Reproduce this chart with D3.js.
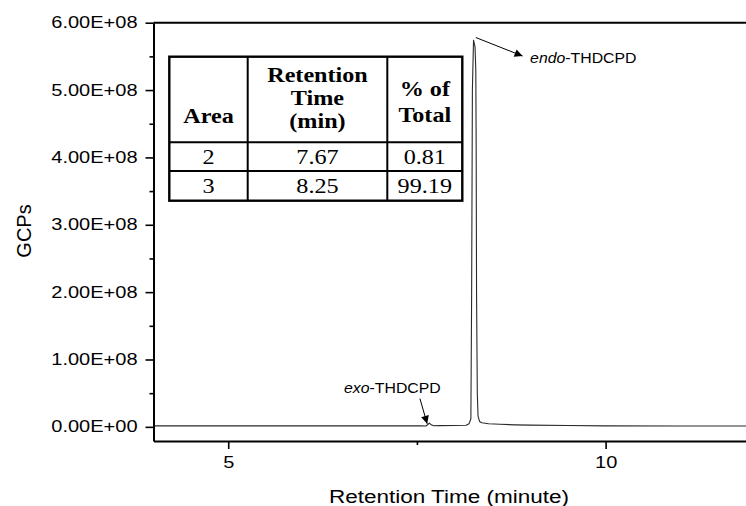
<!DOCTYPE html>
<html>
<head>
<meta charset="utf-8">
<script src="https://cdn.jsdelivr.net/npm/d3@7"></script>
<style>
  body { margin: 0; background: #fff; }
  svg { display: block; }
</style>
</head>
<body>
<div id="chart"></div>
<script>
"use strict";

const width = 746,
      height = 506;

// chromatogram trace (minute, counts)
const retentionTime = [4.01, 5.0, 6.0, 7.0, 7.55, 7.62, 7.645, 7.665, 7.69, 7.72, 7.8, 8.0, 8.15, 8.19, 8.215, 8.225, 8.235, 8.25, 8.27, 8.28, 8.285, 8.29, 8.30, 8.31, 8.33, 8.36, 8.45, 8.6, 8.8, 9.0, 9.5, 10.0, 11.0, 11.86];
const gcps          = [1.4e6, 1.4e6, 1.4e6, 1.4e6, 1.4e6, 1.3e6, 3.5e6, 5.6e6, 3.0e6, 1.6e6, 1.8e6, 2.0e6, 2.4e6, 4.5e6, 1.2e7, 2.0e8, 5.0e8, 5.74e8, 5.64e8, 5.3e8, 4.2e8, 2.0e8, 5.0e7, 1.6e7, 8.0e6, 6.0e6, 4.6e6, 3.8e6, 3.0e6, 2.6e6, 2.0e6, 1.5e6, 1.3e6, 1.3e6];

const yMajor = [0, 1e8, 2e8, 3e8, 4e8, 5e8, 6e8];
const yMinor = [0.5e8, 1.5e8, 2.5e8, 3.5e8, 4.5e8, 5.5e8];
const xMajor = [5, 10];
const xMinor = [7.5];

// inset table
const tableHeader = [["Area"], ["Retention", "Time", "(min)"], ["% of", "Total"]];
const tableRows = [["2", "7.67", "0.81"], ["3", "8.25", "99.19"]];

// peak labels in data units: arrow start, arrow tip, label position
const peakLabels = [
    { from: [7.54, 4.2e7], to: [7.636, 4.5e6], at: [7.175, 5.7e7], anchor: "middle", it: "exo", rest: "-THDCPD" },
    { from: [8.28, 5.78e8], to: [8.90, 5.505e8], at: [9.0, 5.47e8], anchor: "start", it: "endo", rest: "-THDCPD" }
];

const sans = "'Liberation Sans', Arial, sans-serif";
const serif = "'Liberation Serif', 'Times New Roman', serif";

const svg = d3.select("#chart")
    .append("svg")
    .attr("width", width)
    .attr("height", height);

const x = d3.scaleLinear().domain([4.01, 11.86]).range([153.5, 746]);
const y = d3.scaleLinear().domain([-2.1e7, 6e8]).range([441, 22.7]);

// the picture is a bit wider than tall, so text is stretched sideways
function stretch(sel, k) {
    sel.each(function () {
        let w = this.getComputedTextLength();
        d3.select(this).attr("textLength", w * k).attr("lengthAdjust", "spacingAndGlyphs");
    });
}

function sci(v) {
    let parts = v.toExponential(2).split("e");
    let ex = parseInt(parts[1]);
    let sign = ex < 0 ? "-" : "+";
    let digits = String(Math.abs(ex)).padStart(2, "0");
    return parts[0] + "E" + sign + digits;
}

svg.append("defs").append("marker")
    .attr("id", "arrow")
    .attr("viewBox", "0 0 10 10")
    .attr("refX", 10)
    .attr("refY", 5)
    .attr("markerWidth", 11)
    .attr("markerHeight", 8)
    .attr("markerUnits", "userSpaceOnUse")
    .attr("orient", "auto")
    .append("path")
    .attr("d", "M0,0 L10,5 L0,10 Z")
    .attr("fill", "#000");

// trace
let line = d3.line()
    .x((d, i) => x(retentionTime[i]))
    .y(d => y(d));

svg.append("path")
    .datum(gcps)
    .attr("fill", "none")
    .attr("stroke", "#2a2a2a")
    .attr("stroke-width", 1.1)
    .attr("stroke-linejoin", "round")
    .attr("d", line);

// axes
let yAxis = svg.append("g")
    .attr("transform", "translate(" + x.range()[0] + ",0)")
    .call(d3.axisLeft(y).tickValues(yMajor).tickFormat(sci).tickSize(8).tickPadding(8).tickSizeOuter(0));

svg.append("g")
    .attr("transform", "translate(" + x.range()[0] + ",0)")
    .call(d3.axisLeft(y).tickValues(yMinor).tickFormat("").tickSize(4).tickSizeOuter(0))
    .select(".domain").remove();

let xAxis = svg.append("g")
    .attr("transform", "translate(0," + y.range()[0] + ")")
    .call(d3.axisBottom(x).tickValues(xMajor).tickFormat(d3.format("d")).tickSize(8).tickPadding(8).tickSizeOuter(0));

svg.append("g")
    .attr("transform", "translate(0," + y.range()[0] + ")")
    .call(d3.axisBottom(x).tickValues(xMinor).tickFormat("").tickSize(4).tickSizeOuter(0))
    .select(".domain").remove();

svg.selectAll(".domain").attr("stroke", "#000").attr("stroke-width", 2);
svg.selectAll(".tick line").attr("stroke", "#000").attr("stroke-width", 1.6);

[yAxis, xAxis].forEach(ax => {
    ax.selectAll("text")
        .attr("fill", "#000")
        .style("font-family", sans)
        .style("font-size", "16px");
    stretch(ax.selectAll("text"), 1.25);
});

// top frame line
svg.append("line")
    .attr("x1", x.range()[0]).attr("x2", x.range()[1])
    .attr("y1", y(6e8)).attr("y2", y(6e8))
    .attr("stroke", "#000")
    .attr("stroke-width", 2);

// axis titles
let xTitle = svg.append("text")
    .attr("x", 449)
    .attr("y", 503)
    .attr("text-anchor", "middle")
    .style("font-family", sans)
    .style("font-size", "18px")
    .text("Retention Time (minute)");
stretch(xTitle, 1.25);

svg.append("text")
    .attr("transform", "translate(31," + 231 + ") rotate(-90)")
    .attr("text-anchor", "middle")
    .style("font-family", sans)
    .style("font-size", "20px")
    .text("GCPs");

// peak annotations
peakLabels.forEach(p => {
    svg.append("line")
        .attr("x1", x(p.from[0])).attr("y1", y(p.from[1]))
        .attr("x2", x(p.to[0])).attr("y2", y(p.to[1]))
        .attr("stroke", "#000")
        .attr("stroke-width", 1)
        .attr("marker-end", "url(#arrow)");

    let t = svg.append("text")
        .attr("x", x(p.at[0]))
        .attr("y", y(p.at[1]) + 5)
        .attr("text-anchor", p.anchor)
        .style("font-family", sans)
        .style("font-size", "14px");
    t.append("tspan").style("font-style", "italic").text(p.it);
    t.append("tspan").text(p.rest);
    stretch(t, 1.13);
});

// inset table
const tbl = { left: 169.3, top: 56.7, colW: [78.4, 139.6, 75], rowH: [85.6, 28.7, 29.7] };
// baseline of each header line, per column
const headBase = [[123], [82, 105.3, 128], [95.5, 122]];

let colX = [tbl.left];
tbl.colW.forEach(w => colX.push(colX[colX.length - 1] + w));
let rowY = [tbl.top];
tbl.rowH.forEach(h => rowY.push(rowY[rowY.length - 1] + h));

let table = svg.append("g").attr("id", "table");

table.append("rect")
    .attr("x", colX[0]).attr("y", rowY[0])
    .attr("width", colX[3] - colX[0]).attr("height", rowY[3] - rowY[0])
    .attr("fill", "#fff")
    .attr("stroke", "#000")
    .attr("stroke-width", 2.4);

colX.slice(1, 3).forEach(cx => {
    table.append("line")
        .attr("x1", cx).attr("x2", cx)
        .attr("y1", rowY[0]).attr("y2", rowY[3])
        .attr("stroke", "#000").attr("stroke-width", 2);
});
rowY.slice(1, 3).forEach(ry => {
    table.append("line")
        .attr("x1", colX[0]).attr("x2", colX[3])
        .attr("y1", ry).attr("y2", ry)
        .attr("stroke", "#000").attr("stroke-width", 2);
});

tableHeader.forEach((lines, c) => {
    let cx = (colX[c] + colX[c + 1]) / 2;
    lines.forEach((txt, i) => {
        let t = table.append("text")
            .attr("x", cx)
            .attr("y", headBase[c][i])
            .attr("text-anchor", "middle")
            .style("font-family", serif)
            .style("font-weight", "bold")
            .style("font-size", "21px")
            .text(txt);
        stretch(t, 1.15);
    });
});

tableRows.forEach((row, r) => {
    row.forEach((txt, c) => {
        let t = table.append("text")
            .attr("x", (colX[c] + colX[c + 1]) / 2)
            .attr("y", (rowY[r + 1] + rowY[r + 2]) / 2 + 7.5)
            .attr("text-anchor", "middle")
            .style("font-family", serif)
            .style("font-size", "21px")
            .text(txt);
        stretch(t, 1.15);
    });
});
</script>
</body>
</html>
